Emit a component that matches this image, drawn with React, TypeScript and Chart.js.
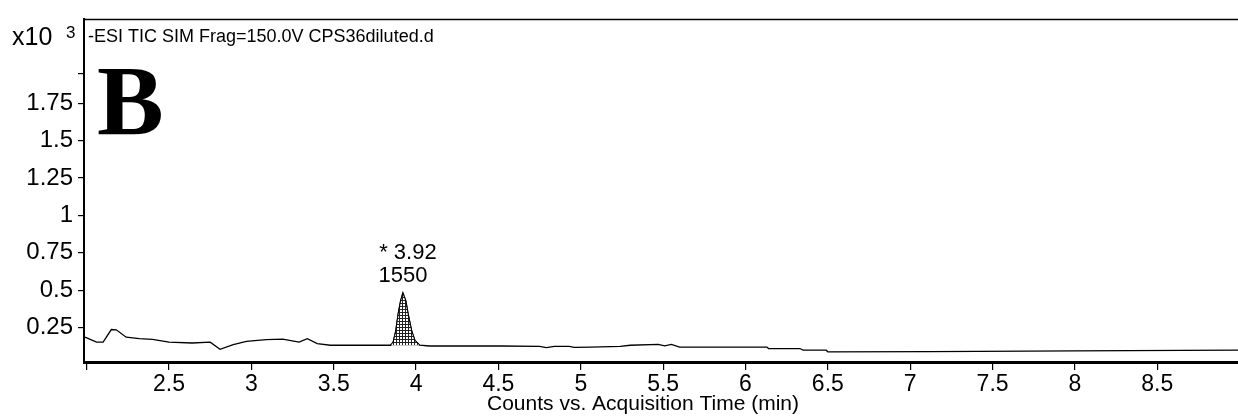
import React, { useEffect, useRef } from 'react';
import { Chart, registerables } from 'chart.js';

Chart.register(...registerables);

// Retention time (min) and counts (x10^3)
const traceTimes = [
  1.99, 2.06, 2.10, 2.15, 2.18, 2.24, 2.32, 2.40, 2.50, 2.64, 2.75, 2.81, 2.89, 2.97,
  3.09, 3.19, 3.29, 3.34, 3.40, 3.48, 3.60, 3.78, 3.845, 3.861, 3.877, 3.891, 3.906,
  3.92, 3.938, 3.952, 3.973, 3.993, 4.023, 4.08, 4.51, 4.75, 4.79, 4.84, 4.93, 4.96,
  5.06, 5.24, 5.30, 5.47, 5.51, 5.55, 5.60, 6.13, 6.14, 6.33, 6.35, 6.49, 6.50, 7.12,
  8.00, 8.99,
];
const traceCounts = [
  0.186, 0.153, 0.153, 0.237, 0.235, 0.186, 0.176, 0.171, 0.153, 0.147, 0.153, 0.105,
  0.136, 0.158, 0.169, 0.173, 0.153, 0.176, 0.143, 0.132, 0.132, 0.132, 0.132, 0.153,
  0.230, 0.340, 0.428, 0.482, 0.428, 0.340, 0.230, 0.164, 0.132, 0.127, 0.127, 0.125,
  0.116, 0.125, 0.125, 0.118, 0.120, 0.125, 0.132, 0.138, 0.128, 0.138, 0.120, 0.120,
  0.110, 0.110, 0.099, 0.099, 0.088, 0.090, 0.094, 0.100,
];

// Integrated peak
const peakStart = 3.845;
const peakEnd = 4.023;
const peakRT = 3.92;
const peakLabel = '1550';

// Axes
const xRange = [1.984, 8.99];
const yRange = [0.02, 2.31];
const xTickValues = [2, 2.5, 3, 3.5, 4, 4.5, 5, 5.5, 6, 6.5, 7, 7.5, 8, 8.5];
const xTickLabels = ['', '2.5', '3', '3.5', '4', '4.5', '5', '5.5', '6', '6.5', '7', '7.5', '8', '8.5'];
const yTickValues = [0.25, 0.5, 0.75, 1, 1.25, 1.5, 1.75, 1.95];
const yTickLabels = ['0.25', '0.5', '0.75', '1', '1.25', '1.5', '1.75', ''];

const headerText = '-ESI TIC SIM Frag=150.0V CPS36diluted.d';
const panelLetter = 'B';
const xTitle = 'Counts vs. Acquisition Time (min)';

const SANS = '"Liberation Sans", Arial, sans-serif';
const SERIF = '"Liberation Serif", "Times New Roman", serif';

export default function App() {
  const canvasRef = useRef<HTMLCanvasElement | null>(null);

  useEffect(() => {
    document.body.style.margin = '0';
    const canvas = canvasRef.current;
    if (!canvas) return;
    const ctx = canvas.getContext('2d');
    if (!ctx) return;

    // grid hatch pattern for the integrated peak
    const pc = document.createElement('canvas');
    pc.width = 3;
    pc.height = 3;
    const pctx = pc.getContext('2d')!;
    pctx.fillStyle = '#ffffff';
    pctx.fillRect(0, 0, 3, 3);
    pctx.fillStyle = '#222222';
    pctx.fillRect(0, 0, 3, 1);
    pctx.fillRect(0, 0, 1, 3);
    const pattern = ctx.createPattern(pc, 'repeat');

    const trace = traceTimes.map((t, i) => ({ x: t, y: traceCounts[i] }));
    const peak = trace.filter((p) => p.x >= peakStart && p.x <= peakEnd);
    const peakBase = peak[0].y;
    const apex = peak.reduce((a, b) => (b.y > a.y ? b : a), peak[0]);

    const decor = {
      id: 'decor',
      afterDraw(chart: any) {
        const c = chart.ctx;
        const { chartArea, scales } = chart;
        c.save();
        c.fillStyle = '#000';
        c.strokeStyle = '#000';
        // top frame line
        c.lineWidth = 1.5;
        c.beginPath();
        c.moveTo(chartArea.left, chartArea.top);
        c.lineTo(chartArea.right, chartArea.top);
        c.stroke();

        // exponent
        c.textBaseline = 'middle';
        c.textAlign = 'left';
        c.font = `25px ${SANS}`;
        c.fillText('x10', 12, 38);
        c.font = `17px ${SANS}`;
        c.fillText('3', 66, 33);

        // header
        c.font = `18px ${SANS}`;
        c.fillText(headerText, 88, 37);

        // panel letter
        c.textBaseline = 'alphabetic';
        c.font = `bold 100px ${SERIF}`;
        c.fillText(panelLetter, 97, 134);

        // peak annotation
        const px = scales.x.getPixelForValue(apex.x);
        const py = scales.y.getPixelForValue(apex.y);
        c.textAlign = 'center';
        c.textBaseline = 'middle';
        c.font = `22px ${SANS}`;
        c.fillText('* ' + peakRT.toFixed(2), px + 5, py - 40);
        c.fillText(peakLabel, px, py - 17);

        // x axis title
        c.font = `21px ${SANS}`;
        c.fillText(xTitle, 643, 404);
        c.restore();
      },
    };

    const chart = new Chart(ctx, {
      type: 'line',
      data: {
        datasets: [
          {
            data: peak,
            borderColor: '#000',
            borderWidth: 1,
            backgroundColor: pattern as any,
            fill: { value: peakBase },
            pointRadius: 0,
            tension: 0,
          },
          {
            data: trace,
            borderColor: '#000',
            borderWidth: 1.3,
            pointRadius: 0,
            fill: false,
            tension: 0,
          },
        ],
      },
      options: {
        responsive: false,
        animation: false,
        layout: { padding: { top: 14, left: 0, right: 0, bottom: 0 } },
        plugins: { legend: { display: false }, tooltip: { enabled: false } },
        scales: {
          x: {
            type: 'linear',
            min: xRange[0],
            max: xRange[1],
            afterBuildTicks: (scale: any) => {
              scale.ticks = xTickValues.map((v) => ({ value: v }));
            },
            afterFit: (scale: any) => {
              scale.height = 54;
            },
            ticks: {
              autoSkip: false,
              maxRotation: 0,
              padding: 1,
              color: '#000',
              font: { family: SANS, size: 23 },
              callback: (_v: any, i: number) => xTickLabels[i],
            },
            grid: { display: true, drawOnChartArea: false, drawTicks: true, tickLength: 8, color: '#000', lineWidth: 1.2 },
            border: { display: true, color: '#000', width: 3 },
          },
          y: {
            type: 'linear',
            min: yRange[0],
            max: yRange[1],
            afterBuildTicks: (scale: any) => {
              scale.ticks = yTickValues.map((v) => ({ value: v }));
            },
            afterFit: (scale: any) => {
              scale.width = 84;
            },
            ticks: {
              autoSkip: false,
              padding: 5,
              color: '#000',
              font: { family: SANS, size: 24 },
              callback: (_v: any, i: number) => yTickLabels[i],
            },
            grid: { display: true, drawOnChartArea: false, drawTicks: true, tickLength: 6, color: '#000', lineWidth: 1.2 },
            border: { display: true, color: '#000', width: 2 },
          },
        },
      },
      plugins: [decor],
    });

    return () => chart.destroy();
  }, []);

  return (
    <div style={{ width: 1238, height: 416, background: '#fff' }}>
      <canvas ref={canvasRef} width={1238} height={416} style={{ width: 1238, height: 416, display: 'block' }} />
    </div>
  );
}
